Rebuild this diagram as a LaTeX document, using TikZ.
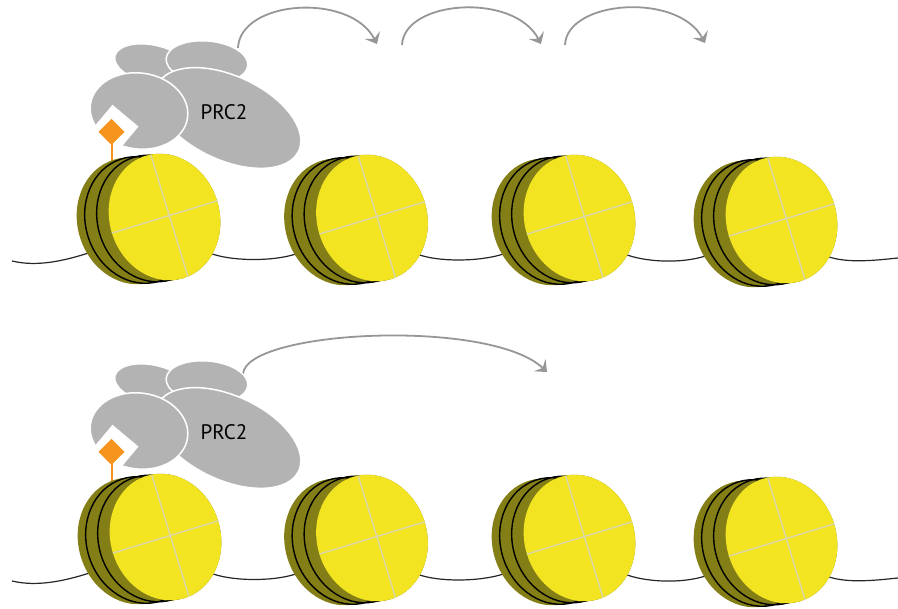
\documentclass[tikz,border=0pt]{standalone}
\usepackage{fontspec}
\setmainfont{PT Sans}
\usetikzlibrary{arrows.meta}

\definecolor{histyellow}{RGB}{242,228,33}
\definecolor{histolive}{RGB}{132,126,22}
\definecolor{crossline}{RGB}{218,214,170}
\definecolor{prcgray}{RGB}{179,179,179}
\definecolor{arrowgray}{RGB}{150,150,150}
\definecolor{markorange}{RGB}{247,148,29}

\tikzset{
  dna/.style={black!85, line width=1.2pt},
  spread/.style={arrowgray, line width=1.8pt,
    -{Stealth[length=10pt,width=17pt,inset=4pt]}},
  subunit/.style={fill=prcgray, draw=white, line width=1.5pt},
  face/.style={x radius=55pt, y radius=64pt},
  % one nucleosome: olive core cylinder, two DNA turns, yellow face
  nucleosome/.pic={
    \foreach \i in {0,...,16}
      \fill[histolive, shift={(-2*\i,0.25*\i)}, rotate=17]
        (0,0) ellipse [face];
    \foreach \s/\v in {-12/1.5,-24/3}
      \draw[black, line width=1.4pt, shift={(\s,\v)}, rotate=17]
        (0,0) ellipse [face];
    \begin{scope}[rotate=17]
      \fill[histyellow] (0,0) ellipse [face];
      \clip (0,0) ellipse [face];
      \draw[crossline, line width=1.4pt] (-60,0) -- (60,0) (5,-70) -- (5,70);
    \end{scope}
  },
  % PRC2 complex with its bound mark
  prc/.pic={
    \draw[subunit, rotate around={-12:(152,64)}]
      (152,64) ellipse [x radius=38pt, y radius=19pt];
    \draw[subunit, rotate around={-5:(207,62)}]
      (207,62) ellipse [x radius=41pt, y radius=21pt];
    \draw[subunit, rotate around={-25:(228,118)}]
      (228,118) ellipse [x radius=78pt, y radius=42pt];
    \draw[subunit, rotate around={-8:(139,111)}]
      (139,111) ellipse [x radius=49pt, y radius=38pt];
    \fill[white, shift={(114.6,128.7)}, rotate=5]
      (0,-24) -- (24,0) -- (0,24) -- (-24,0) -- cycle;
    \draw[markorange, line width=2pt] (111.5,140) -- (111.5,168);
    \fill[markorange, shift={(111.5,132)}]
      (0,-13) -- (13,0) -- (0,13) -- (-13,0) -- cycle;
    \node[font=\fontsize{21}{25}\selectfont, inner sep=0pt] (-label)
      at (224,112.5) {PRC2};
  }
}

\begin{document}
\begin{tikzpicture}[x=1pt, y=-1pt]
  \useasboundingbox (0,0) rectangle (898,609);

  % ---------------- upper fibre ----------------
  \coordinate (tl) at (12,261);
  \coordinate (tr) at (898,258);
  \coordinate (ts1) at (238,48);  \coordinate (te1) at (377,44);
  \coordinate (ts2) at (402,45);  \coordinate (te2) at (541,44);
  \coordinate (ts3) at (565,45);  \coordinate (te3) at (705,43);

  % positions of the nucleosomes (drawn later, on top)
  \path (164.5,217) coordinate (t1c) (372,218) coordinate (t2c)
        (579.5,218) coordinate (t3c) (781.5,220) coordinate (t4c);
  \path (t1c) +(-76,36) coordinate (t1-in) +(45,36) coordinate (t1-out);
  \path (t2c) +(-76,36) coordinate (t2-in) +(45,36) coordinate (t2-out);
  \path (t3c) +(-76,36) coordinate (t3-in) +(45,36) coordinate (t3-out);
  \path (t4c) +(-76,36) coordinate (t4-in) +(45,36) coordinate (t4-out);

  \draw[dna] (tl) .. controls +(25,6) and +(-25,8) .. (t1-in);
  \draw[dna] (t1-out) .. controls +(20,8) and +(-25,8) .. (t2-in);
  \draw[dna] (t2-out) .. controls +(20,8) and +(-25,8) .. (t3-in);
  \draw[dna] (t3-out) .. controls +(20,8) and +(-25,8) .. (t4-in);
  \draw[dna] (t4-out) .. controls +(20,8) and +(-20,2) .. (tr);

  \draw[spread] (ts1) .. controls +(2,-48) and +(-27,-52) .. (te1);
  \draw[spread] (ts2) .. controls +(2,-45) and +(-27,-52) .. (te2);
  \draw[spread] (ts3) .. controls +(2,-45) and +(-27,-51) .. (te3);

  \pic (tp) at (0,0) {prc};

  \pic (t1) at (t1c) {nucleosome};
  \pic (t2) at (t2c) {nucleosome};
  \pic (t3) at (t3c) {nucleosome};
  \pic (t4) at (t4c) {nucleosome};

  % ---------------- lower fibre ----------------
  \coordinate (bl) at (12,581);
  \coordinate (br) at (898,578);
  \coordinate (bs1) at (243,374); \coordinate (be1) at (547,372);

  \path (165.5,537) coordinate (b1c) (372,538) coordinate (b2c)
        (579.5,538) coordinate (b3c) (781.5,540) coordinate (b4c);
  \path (b1c) +(-76,36) coordinate (b1-in) +(45,36) coordinate (b1-out);
  \path (b2c) +(-76,36) coordinate (b2-in) +(45,36) coordinate (b2-out);
  \path (b3c) +(-76,36) coordinate (b3-in) +(45,36) coordinate (b3-out);
  \path (b4c) +(-76,36) coordinate (b4-in) +(45,36) coordinate (b4-out);

  \draw[dna] (bl) .. controls +(25,6) and +(-25,8) .. (b1-in);
  \draw[dna] (b1-out) .. controls +(20,8) and +(-25,8) .. (b2-in);
  \draw[dna] (b2-out) .. controls +(20,8) and +(-25,8) .. (b3-in);
  \draw[dna] (b3-out) .. controls +(20,8) and +(-25,8) .. (b4-in);
  \draw[dna] (b4-out) .. controls +(20,8) and +(-20,2) .. (br);

  \draw[spread] (bs1) .. controls +(3,-44) and +(-57,-54) .. (be1);

  \pic (bp) at (0,320) {prc};

  \pic (b1) at (b1c) {nucleosome};
  \pic (b2) at (b2c) {nucleosome};
  \pic (b3) at (b3c) {nucleosome};
  \pic (b4) at (b4c) {nucleosome};
\end{tikzpicture}
\end{document}
